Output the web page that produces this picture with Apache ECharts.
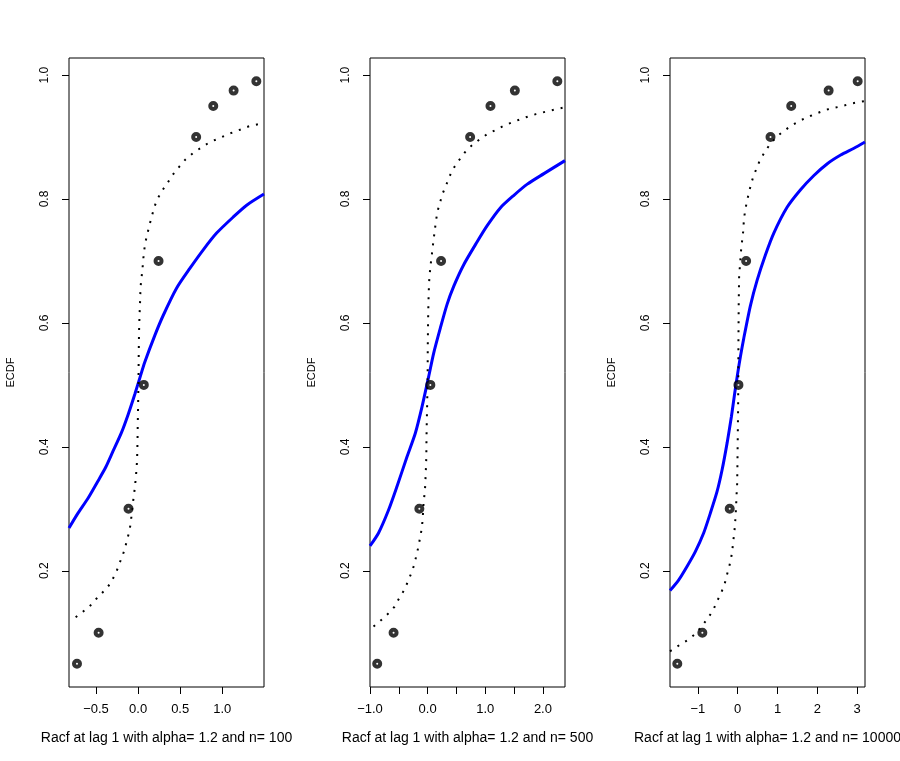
<!DOCTYPE html>
<html>
<head>
<meta charset="utf-8">
<script src="https://cdn.jsdelivr.net/npm/echarts@6/dist/echarts.min.js"></script>
<style>
html,body{margin:0;padding:0;background:#fff;}
#chart{width:900px;height:761px;}
</style>
</head>
<body>
<div id="chart"></div>
<script>
// ---- data ----
const ecdfLevels = [0.05, 0.10, 0.30, 0.50, 0.70, 0.90, 0.95, 0.975, 0.99];
const pts1X = [-0.726, -0.469, -0.114, 0.068, 0.243, 0.690, 0.893, 1.135, 1.405];
const pts2X = [-0.875, -0.591, -0.144, 0.047, 0.233, 0.737, 1.090, 1.513, 2.250];
const pts3X = [-1.517, -0.888, -0.201, 0.018, 0.211, 0.823, 1.343, 2.282, 3.011];

// theoretical (dotted) curves
const dot1X = [-0.742,-0.655,-0.567,-0.488,-0.408,-0.337,-0.281,-0.238,-0.202,-0.162,-0.135,-0.107,-0.087,-0.067,-0.051,-0.039,-0.027,-0.019,-0.012,-0.007,-0.004,0.000,0.005,0.008,0.011,0.017,0.022,0.029,0.040,0.052,0.060,0.071,0.088,0.112,0.139,0.167,0.195,0.238,0.294,0.354,0.417,0.488,0.564,0.651,0.750,0.854,0.964,1.076,1.195,1.310,1.433,1.496];
const dot1Y = [0.125,0.134,0.144,0.156,0.167,0.178,0.192,0.205,0.219,0.233,0.248,0.262,0.277,0.305,0.320,0.334,0.350,0.364,0.379,0.408,0.438,0.465,0.513,0.556,0.584,0.613,0.628,0.658,0.672,0.687,0.701,0.716,0.731,0.745,0.760,0.774,0.788,0.802,0.815,0.827,0.840,0.852,0.864,0.874,0.883,0.892,0.898,0.905,0.911,0.917,0.921,0.923];

const dot2X = [-0.939,-0.811,-0.683,-0.574,-0.492,-0.405,-0.341,-0.284,-0.231,-0.197,-0.162,-0.132,-0.104,-0.087,-0.070,-0.052,-0.040,-0.035,-0.028,-0.023,-0.020,-0.015,-0.008,0.000,0.002,0.004,0.008,0.014,0.024,0.035,0.052,0.070,0.087,0.111,0.146,0.174,0.216,0.261,0.320,0.377,0.452,0.539,0.643,0.760,0.899,1.038,1.195,1.339,1.530,1.704,1.878,2.052,2.233,2.383];
const dot2Y = [0.110,0.120,0.131,0.142,0.156,0.169,0.183,0.196,0.210,0.224,0.238,0.253,0.267,0.282,0.311,0.325,0.340,0.355,0.369,0.384,0.413,0.441,0.470,0.513,0.562,0.575,0.605,0.634,0.664,0.678,0.694,0.708,0.722,0.740,0.766,0.781,0.795,0.809,0.822,0.836,0.850,0.862,0.875,0.886,0.896,0.905,0.912,0.919,0.926,0.932,0.937,0.941,0.945,0.948];

const dot3X = [-1.700,-1.668,-1.442,-1.232,-1.047,-0.896,-0.745,-0.619,-0.518,-0.418,-0.335,-0.277,-0.216,-0.166,-0.133,-0.108,-0.083,-0.065,-0.050,-0.038,-0.028,-0.015,-0.008,0.000,0.010,0.015,0.018,0.020,0.025,0.035,0.068,0.085,0.111,0.136,0.151,0.176,0.215,0.262,0.319,0.380,0.463,0.553,0.671,0.805,0.970,1.160,1.359,1.580,1.820,2.055,2.315,2.566,2.835,3.094,3.195];
const dot3Y = [0.070,0.0715,0.081,0.089,0.099,0.111,0.124,0.136,0.151,0.164,0.177,0.192,0.206,0.220,0.235,0.250,0.263,0.278,0.293,0.309,0.324,0.339,0.368,0.411,0.465,0.519,0.573,0.589,0.632,0.675,0.703,0.718,0.733,0.747,0.762,0.777,0.791,0.805,0.820,0.834,0.848,0.862,0.875,0.888,0.900,0.910,0.919,0.927,0.934,0.940,0.946,0.949,0.954,0.957,0.958];

// smoothed empirical (blue) curves
const blue1X = [-0.821,-0.714,-0.595,-0.476,-0.385,-0.298,-0.198,-0.119,-0.039,0.020,0.080,0.199,0.298,0.457,0.615,0.774,0.933,1.131,1.290,1.496];
const blue1Y = [0.269,0.293,0.317,0.345,0.367,0.393,0.423,0.452,0.485,0.511,0.537,0.580,0.612,0.656,0.688,0.718,0.745,0.771,0.790,0.808];

const blue2X = [-1.000,-0.852,-0.678,-0.532,-0.358,-0.214,-0.097,0.017,0.104,0.221,0.337,0.452,0.626,0.859,1.033,1.264,1.496,1.729,2.017,2.383];
const blue2Y = [0.240,0.261,0.298,0.336,0.384,0.422,0.465,0.513,0.551,0.592,0.630,0.659,0.694,0.731,0.757,0.786,0.806,0.824,0.841,0.862];

const blue3X = [-1.700,-1.484,-1.273,-1.064,-0.855,-0.687,-0.518,-0.392,-0.267,-0.158,-0.075,0.000,0.068,0.151,0.319,0.488,0.697,0.906,1.243,1.577,1.912,2.249,2.584,2.918,3.195];
const blue3Y = [0.168,0.185,0.207,0.231,0.261,0.293,0.328,0.363,0.406,0.449,0.487,0.519,0.546,0.575,0.628,0.669,0.710,0.745,0.787,0.815,0.838,0.857,0.871,0.882,0.892];

// axes
const xRanges = [[-0.821, 1.496], [-1.0, 2.383], [-1.70, 3.195]];
const yRange = [0.0124, 1.0276];
const yTicks = [0.2, 0.4, 0.6, 0.8, 1.0];
const x1Ticks = [-0.5, 0.0, 0.5, 1.0];
const x2Ticks = [-1.0, -0.5, 0.0, 0.5, 1.0, 1.5, 2.0];
const x2Labels = [-1.0, 0.0, 1.0, 2.0];
const x3Ticks = [-1, 0, 1, 2, 3];
const xTitles = ['Racf at lag 1 with alpha= 1.2 and n= 100',
                 'Racf at lag 1 with alpha= 1.2 and n= 500',
                 'Racf at lag 1 with alpha= 1.2 and n= 10000'];
const yTitle = 'ECDF';

// ---- chart ----
const FONT = 'Liberation Sans, Arial, Helvetica, sans-serif';
const zip = (xs, ys) => xs.map((x, i) => [x, ys[i]]);
const minus = s => s.replace('-', '\u2212');

const gridLefts = [69, 370, 670];
const grids = gridLefts.map(l => ({
  left: l, top: 58, width: 195, height: 629,
  show: true, borderColor: '#000', borderWidth: 1, backgroundColor: 'transparent',
  containLabel: false, outerBoundsMode: 'none'
}));

const tickSets = [x1Ticks, x2Ticks, x3Ticks];
const labelSets = [x1Ticks, x2Labels, x3Ticks];
const fmts = [v => minus(v.toFixed(1)), v => minus(v.toFixed(1)), v => minus(String(Math.round(v)))];

const xAxes = [0, 1, 2].map(i => ({
  type: 'value', gridIndex: i, position: 'bottom',
  min: xRanges[i][0], max: xRanges[i][1],
  axisLine: { show: false, onZero: false },
  splitLine: { show: false },
  axisTick: { show: true, length: 7, customValues: tickSets[i], lineStyle: { color: '#000', width: 1 } },
  axisLabel: { show: true, customValues: labelSets[i], formatter: fmts[i], color: '#000', fontSize: 13, fontFamily: FONT, margin: 16 },
  name: xTitles[i], nameLocation: 'middle', nameGap: 44,
  nameTextStyle: { color: '#000', fontSize: 14, fontFamily: FONT }
}));

const yAxes = [0, 1, 2].map(i => ({
  type: 'value', gridIndex: i, position: 'left',
  min: yRange[0], max: yRange[1],
  axisLine: { show: false, onZero: false },
  splitLine: { show: false },
  axisTick: { show: true, length: 7, customValues: yTicks, lineStyle: { color: '#000', width: 1 } },
  axisLabel: { show: true, customValues: yTicks, rotate: 90, formatter: v => v.toFixed(1), color: '#000', fontSize: 12, fontFamily: FONT, margin: 18 },
  name: yTitle, nameLocation: 'middle', nameGap: 53,
  nameTextStyle: { color: '#000', fontSize: 11, fontFamily: FONT }
}));

const dots = [zip(dot1X, dot1Y), zip(dot2X, dot2Y), zip(dot3X, dot3Y)];
const blues = [zip(blue1X, blue1Y), zip(blue2X, blue2Y), zip(blue3X, blue3Y)];
const ptsX = [pts1X, pts2X, pts3X];

const series = [];
for (let i = 0; i < 3; i++) {
  series.push({
    type: 'line', xAxisIndex: i, yAxisIndex: i, data: blues[i],
    showSymbol: false, smooth: 0.25, clip: true, silent: true,
    lineStyle: { color: '#0000ff', width: 3 }, z: 2
  });
  series.push({
    type: 'line', xAxisIndex: i, yAxisIndex: i, data: dots[i],
    showSymbol: false, smooth: false, clip: true, silent: true,
    lineStyle: { color: '#000', width: 2, type: [2, 7], cap: 'butt' }, z: 3
  });
  series.push({
    type: 'scatter', xAxisIndex: i, yAxisIndex: i, data: zip(ptsX[i], ecdfLevels),
    symbol: 'circle', symbolSize: 6, silent: true,
    itemStyle: { color: '#fff', borderColor: '#000', borderWidth: 4 }, z: 4
  });
}

const chart = echarts.init(document.getElementById('chart'), null, { renderer: 'canvas' });
chart.setOption({
  backgroundColor: '#fff',
  animation: false,
  grid: grids,
  xAxis: xAxes,
  yAxis: yAxes,
  series: series
});
</script>
</body>
</html>
